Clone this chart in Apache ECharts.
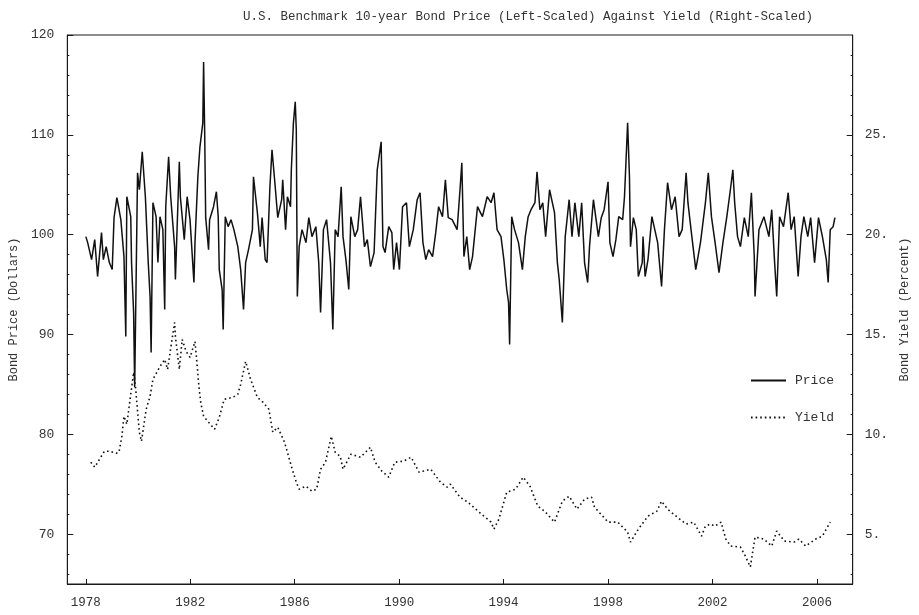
<!DOCTYPE html>
<html>
<head>
<meta charset="utf-8">
<script src="https://cdn.jsdelivr.net/npm/echarts@6/dist/echarts.min.js"></script>
<style>html,body{margin:0;padding:0;background:#fff}#c{width:919px;height:615px}</style>
</head>
<body>
<div id="c"></div>
<script>
const titleText = 'U.S. Benchmark 10-year Bond Price (Left-Scaled) Against Yield (Right-Scaled)';
const yearTicks = [1978, 1982, 1986, 1990, 1994, 1998, 2002, 2006];
const priceTicks = [70, 80, 90, 100, 110, 120];
const yieldTicks = [5, 10, 15, 20, 25];
const priceMinorTicks = [66, 68, 72, 74, 76, 78, 82, 84, 86, 88, 92, 94, 96, 98, 102, 104, 106, 108, 112, 114, 116, 118];
const yieldMinorTicks = [3, 4, 6, 7, 8, 9, 11, 12, 13, 14, 16, 17, 18, 19, 21, 22, 23, 24, 26, 27, 28, 29];

const priceYears = [
1978.00,1978.07,1978.22,1978.34,1978.45,1978.60,1978.67,1978.78,1978.90,1979.01,
1979.08,1979.19,1979.34,1979.46,1979.53,1979.57,1979.72,1979.75,1979.83,1979.87,
1979.98,1980.05,1980.16,1980.28,1980.39,1980.46,1980.50,1980.57,1980.69,1980.76,
1980.84,1980.95,1981.02,1981.06,1981.17,1981.25,1981.40,1981.43,1981.58,1981.62,
1981.77,1981.88,1981.99,1982.14,1982.18,1982.29,1982.37,1982.48,1982.51,1982.55,
1982.59,1982.70,1982.74,1982.89,1983.00,1983.07,1983.11,1983.22,1983.26,1983.34,
1983.45,1983.56,1983.67,1983.82,1983.93,1984.04,1984.12,1984.23,1984.38,1984.42,
1984.57,1984.68,1984.75,1984.87,1984.94,1985.05,1985.13,1985.24,1985.35,1985.50,
1985.54,1985.65,1985.72,1985.84,1985.87,1985.95,1986.02,1986.06,1986.10,1986.17,
1986.28,1986.43,1986.54,1986.66,1986.81,1986.92,1986.99,1987.10,1987.22,1987.37,
1987.46,1987.55,1987.66,1987.78,1987.85,1987.96,1988.07,1988.15,1988.30,1988.41,
1988.52,1988.67,1988.78,1988.90,1989.04,1989.16,1989.31,1989.38,1989.46,1989.60,
1989.72,1989.79,1989.90,1990.01,1990.13,1990.28,1990.39,1990.54,1990.69,1990.80,
1990.91,1991.02,1991.13,1991.28,1991.40,1991.51,1991.66,1991.77,1991.88,1992.03,
1992.22,1992.33,1992.40,1992.48,1992.59,1992.70,1992.81,1993.00,1993.19,1993.37,
1993.52,1993.63,1993.75,1993.90,1994.01,1994.12,1994.19,1994.23,1994.31,1994.42,
1994.57,1994.72,1994.83,1994.94,1995.05,1995.20,1995.28,1995.39,1995.50,1995.61,
1995.76,1995.95,1996.06,1996.13,1996.25,1996.36,1996.51,1996.62,1996.73,1996.88,
1996.99,1997.10,1997.22,1997.29,1997.44,1997.63,1997.74,1997.85,1998.00,1998.07,
1998.19,1998.30,1998.41,1998.56,1998.63,1998.75,1998.82,1998.86,1998.97,1999.08,
1999.16,1999.31,1999.34,1999.42,1999.53,1999.68,1999.79,1999.90,2000.05,2000.16,
2000.28,2000.43,2000.57,2000.72,2000.84,2000.99,2001.06,2001.21,2001.36,2001.54,
2001.73,2001.84,2001.96,2002.10,2002.25,2002.40,2002.55,2002.70,2002.78,2002.85,
2002.96,2003.07,2003.22,2003.37,2003.49,2003.60,2003.63,2003.78,2003.97,2004.16,
2004.27,2004.38,2004.46,2004.57,2004.72,2004.90,2005.01,2005.13,2005.28,2005.39,
2005.50,2005.65,2005.76,2005.91,2006.06,2006.21,2006.36,2006.43,2006.51,2006.62,
2006.69
];
const priceValues = [
99.8,99.2,97.5,99.5,95.8,100.2,97.5,98.8,97.2,96.5,
101.7,103.7,101.5,97.8,89.8,103.8,101.8,97.2,92.2,84.7,
106.2,104.5,108.3,103.8,97.2,93.8,88.2,103.2,101.8,97.2,
101.8,100.5,92.5,102.8,107.8,103.8,98.8,95.5,107.3,103.8,
99.5,103.8,101.5,95.2,99.2,105.8,108.8,111.2,117.3,110.5,
101.7,98.5,101.5,102.8,104.3,101.8,96.5,94.5,90.5,101.8,
100.8,101.5,100.5,98.8,96.5,92.5,97.2,98.5,100.5,105.8,
102.2,98.8,101.7,97.5,97.2,104.8,108.5,105.2,101.7,103.5,
105.5,100.5,103.8,102.8,106.5,111.2,113.3,110.5,93.8,98.8,
100.5,99.2,101.7,99.8,100.8,97.2,92.2,100.5,101.5,97.2,
90.5,100.5,99.8,104.8,99.8,97.5,94.5,101.8,99.8,100.5,
103.8,98.8,99.5,96.8,98.2,106.5,109.3,98.8,98.2,100.8,
100.2,96.5,99.2,96.5,102.8,103.2,98.8,100.5,103.5,104.2,
99.2,97.5,98.5,97.8,100.2,102.8,101.8,105.5,101.7,101.5,
100.5,104.5,107.2,97.8,99.8,96.5,97.8,102.8,101.8,103.8,
103.2,104.2,100.5,99.8,97.5,94.5,93.2,89.0,101.8,100.5,
99.2,96.5,99.8,101.8,102.5,103.2,106.3,102.5,103.2,99.8,
104.5,102.2,97.2,95.5,91.2,99.8,103.5,99.8,103.2,99.8,
103.2,97.2,95.2,98.8,103.5,99.8,101.7,102.5,105.3,99.2,
97.8,99.5,101.8,101.5,103.8,111.2,105.8,98.8,101.7,100.5,
95.8,97.2,99.8,95.8,97.5,101.8,100.5,99.2,94.8,100.5,
105.2,102.5,103.8,99.8,100.5,106.2,103.2,99.8,96.5,99.2,
103.2,106.2,101.8,99.2,96.2,99.2,101.8,104.8,106.5,103.2,
99.8,98.8,101.7,99.8,104.2,97.8,93.8,100.5,101.8,99.8,
102.5,97.2,93.8,101.8,100.8,104.2,100.5,101.8,95.8,99.8,
101.8,99.8,101.7,97.2,101.7,99.8,97.5,95.2,100.5,100.8,
101.7
];

const yieldYears = [
1978.19,1978.34,1978.71,1978.90,1979.16,1979.27,1979.38,1979.46,1979.57,1979.83,
1979.90,1980.05,1980.13,1980.31,1980.46,1980.57,1980.84,1981.02,1981.13,1981.40,
1981.43,1981.58,1981.69,1981.84,1981.99,1982.18,1982.25,1982.33,1982.40,1982.51,
1982.70,1982.93,1983.11,1983.30,1983.63,1983.82,1983.93,1984.12,1984.31,1984.57,
1984.79,1985.01,1985.16,1985.35,1985.61,1985.72,1985.87,1986.06,1986.17,1986.43,
1986.66,1986.84,1986.99,1987.18,1987.40,1987.55,1987.74,1987.85,1988.15,1988.52,
1988.90,1989.08,1989.34,1989.60,1989.83,1990.16,1990.46,1990.76,1991.21,1991.58,
1991.84,1991.96,1992.33,1992.63,1993.15,1993.52,1993.63,1993.82,1994.12,1994.46,
1994.75,1995.01,1995.31,1995.57,1995.95,1996.25,1996.51,1996.81,1997.10,1997.37,
1997.48,1998.00,1998.37,1998.75,1998.86,1999.16,1999.53,1999.87,2000.05,2000.28,
2000.65,2000.99,2001.28,2001.58,2001.73,2001.92,2002.10,2002.33,2002.51,2002.70,
2003.07,2003.26,2003.45,2003.63,2003.97,2004.27,2004.46,2004.75,2005.13,2005.31,
2005.57,2005.95,2006.21,2006.51
];
const yieldValues = [
8.6,8.35,9.15,9.15,9.05,9.1,9.9,10.9,10.5,13.1,
12.4,10.1,9.65,11.25,11.9,12.75,13.4,13.75,13.25,15.6,
14.9,13.25,14.75,14.15,13.85,14.65,13.65,12.4,11.6,10.9,
10.6,10.25,10.85,11.75,11.85,12.0,12.5,13.65,12.75,11.85,
11.6,11.25,10.1,10.35,9.6,9.1,8.4,7.6,7.25,7.4,
7.15,7.25,8.25,8.6,9.9,9.1,8.9,8.25,9.0,8.85,
9.35,8.6,8.15,7.85,8.6,8.65,8.85,8.1,8.25,7.6,
7.35,7.5,6.85,6.6,6.0,5.6,5.25,5.75,7.1,7.25,
7.85,7.4,6.4,6.15,5.6,6.65,6.9,6.25,6.75,6.85,
6.35,5.6,5.6,5.1,4.6,5.25,5.9,6.15,6.65,6.25,
5.85,5.5,5.6,4.9,5.4,5.5,5.4,5.6,4.75,4.4,
4.35,3.9,3.35,4.85,4.75,4.4,5.15,4.65,4.6,4.75,
4.4,4.75,4.9,5.6
];

const FONT = 'Liberation Mono';
const TXT = '#333';
const LINE = '#1a1a1a';

const priceData = priceYears.map((y, i) => [y, priceValues[i]]);
const yieldData = yieldYears.map((y, i) => [y, yieldValues[i]]);

const chart = echarts.init(document.getElementById('c'), null, { renderer: 'canvas' });

const baseY = (min, max, pos) => ({
  type: 'value', min: min, max: max, position: pos,
  splitLine: { show: false }
});

chart.setOption({
  animation: false,
  backgroundColor: '#fff',
  title: {
    text: titleText,
    left: 238, top: 5,
    textStyle: { fontFamily: FONT, fontSize: 12.5, fontWeight: 'normal', color: TXT }
  },
  legend: {
    orient: 'vertical',
    left: 745, top: 369,
    itemWidth: 35, itemHeight: 14, itemGap: 24,
    itemStyle: { opacity: 0 },
    textStyle: { fontFamily: FONT, fontSize: 13, color: TXT, padding: [0, 0, 0, 4] },
    data: ['Price', 'Yield']
  },
  grid: {
    left: 62, right: 51, top: 35, bottom: 31,
    show: true, borderColor: LINE, borderWidth: 1, backgroundColor: 'transparent'
  },
  xAxis: {
    type: 'value', min: 1977.29, max: 2007.37,
    axisLine: { show: true, onZero: false, lineStyle: { color: LINE, width: 1 } },
    axisTick: { show: true, inside: true, length: 5, customValues: yearTicks, lineStyle: { color: LINE } },
    axisLabel: {
      customValues: yearTicks, margin: 12,
      fontFamily: FONT, fontSize: 12.5, color: TXT,
      formatter: v => String(Math.round(v))
    },
    splitLine: { show: false }
  },
  yAxis: [
    Object.assign(baseY(65, 120, 'left'), {
      name: 'Bond Price (Dollars)', nameLocation: 'middle', nameRotate: 90, nameGap: 42,
      nameTextStyle: { fontFamily: FONT, fontSize: 12, color: TXT },
      axisLine: { show: true, lineStyle: { color: LINE } },
      axisTick: { show: true, inside: true, length: 6, customValues: priceTicks, lineStyle: { color: LINE } },
      axisLabel: { customValues: priceTicks, margin: 13, fontFamily: FONT, fontSize: 13, color: TXT }
    }),
    Object.assign(baseY(2.5, 30, 'right'), {
      name: 'Bond Yield (Percent)', nameLocation: 'middle', nameRotate: 90, nameGap: 46,
      nameTextStyle: { fontFamily: FONT, fontSize: 12, color: TXT },
      axisLine: { show: true, lineStyle: { color: LINE } },
      axisTick: { show: true, inside: true, length: 6, customValues: yieldTicks, lineStyle: { color: LINE } },
      axisLabel: { customValues: yieldTicks, margin: 12, fontFamily: FONT, fontSize: 13, color: TXT,
        formatter: v => v + '.' }
    }),
    Object.assign(baseY(65, 120, 'left'), {
      axisLine: { show: false },
      axisTick: { show: true, inside: true, length: 2, customValues: priceMinorTicks, lineStyle: { color: LINE } },
      axisLabel: { show: false }
    }),
    Object.assign(baseY(2.5, 30, 'right'), {
      axisLine: { show: false },
      axisTick: { show: true, inside: true, length: 2, customValues: yieldMinorTicks, lineStyle: { color: LINE } },
      axisLabel: { show: false }
    })
  ],
  series: [
    {
      name: 'Price', type: 'line', yAxisIndex: 0, data: priceData,
      symbol: 'none', showSymbol: false,
      lineStyle: { color: '#111', width: 1.5 },
      itemStyle: { color: '#111' }
    },
    {
      name: 'Yield', type: 'line', yAxisIndex: 1, data: yieldData,
      symbol: 'none', showSymbol: false,
      lineStyle: { color: '#111', width: 1.6, type: [1.6, 3] },
      itemStyle: { color: '#111' }
    }
  ]
});
</script>
</body>
</html>
